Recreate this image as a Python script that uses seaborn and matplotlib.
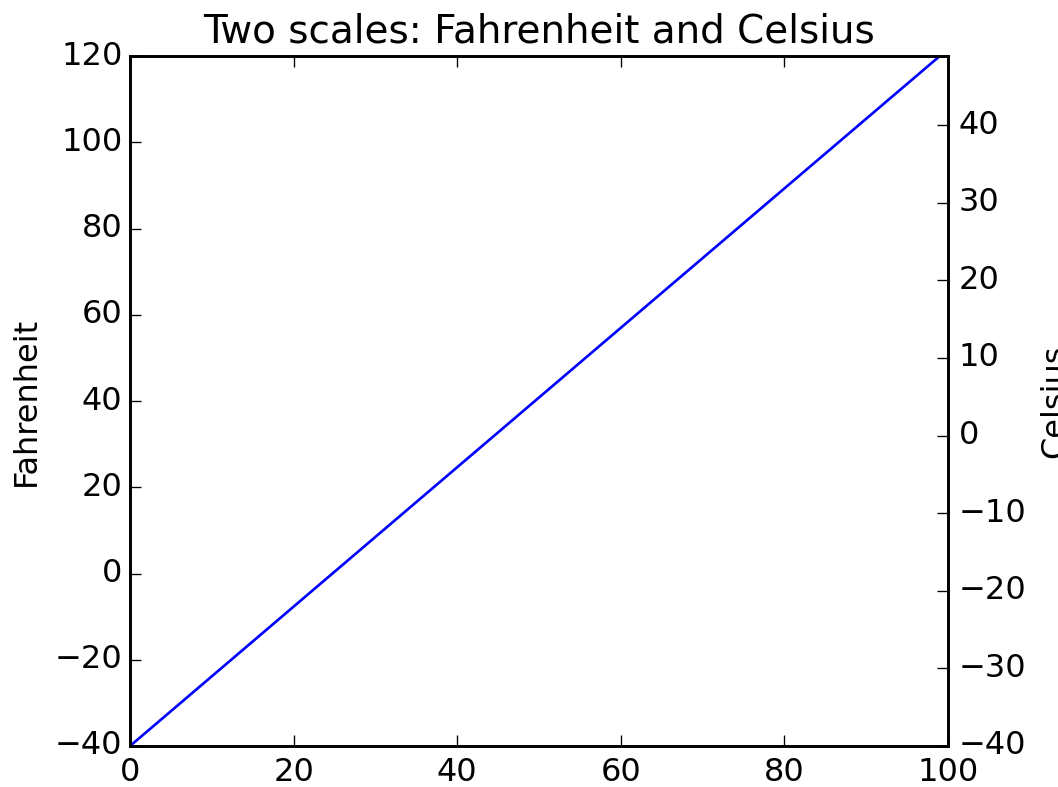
import matplotlib
matplotlib.use('Agg')
import matplotlib.pyplot as plt
import pandas as pd
import seaborn as sns

# ── Data ─────────────────────────────────────────────────────
sample_idx = [0, 99]
fahrenheit = [-40.0, 120.0]

x_limits = (0, 100)
f_limits = (-40, 120)


def fahrenheit2celsius(temp):
    return (5.0 / 9.0) * (temp - 32)


# ── Plot ─────────────────────────────────────────────────────
plt.style.use('classic')
plt.rcParams['ytick.major.pad'] = 2.8

df = pd.DataFrame({'x': sample_idx, 'F': fahrenheit})

fig = plt.figure(figsize=(1058 / 192, 787 / 192), dpi=192, facecolor='white')
ax_f = fig.add_axes([0.1229, 0.0521, 0.8960 - 0.1229, 0.9288 - 0.0521])
ax_c = ax_f.twinx()

sns.lineplot(data=df, x='x', y='F', ax=ax_f, color='blue', linewidth=1.0)

ax_f.set_xlim(*x_limits)
ax_f.set_ylim(*f_limits)
ax_c.set_ylim(fahrenheit2celsius(f_limits[0]), fahrenheit2celsius(f_limits[1]))
ax_c.tick_params(axis='y', pad=4)

ax_f.set_title('Two scales: Fahrenheit and Celsius', fontsize=14.6)
ax_f.set_xlabel('')
ax_f.set_ylabel('Fahrenheit')
ax_c.set_ylabel('Celsius')

fig.savefig('out.png', dpi=192, facecolor='white')
